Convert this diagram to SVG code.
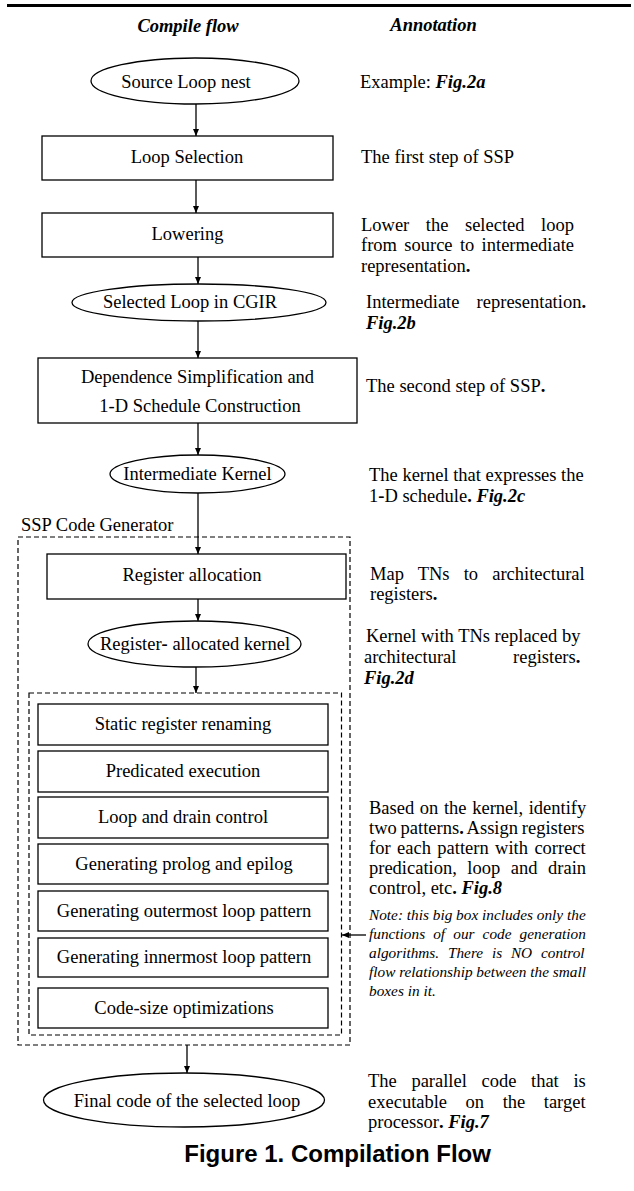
<svg xmlns="http://www.w3.org/2000/svg" width="634" height="1191" viewBox="0 0 634 1191">
<defs>
<marker id="ah" markerWidth="8" markerHeight="8" refX="7" refY="4" orient="auto" markerUnits="userSpaceOnUse"><path d="M0,1 L7,4 L0,7 z" fill="#000"/></marker>
</defs>
<style>
text{font-family:"Liberation Serif","Times New Roman",serif;font-size:18.5px;fill:#000}
.c{text-anchor:middle}
.b{font-weight:bold}
.bi{font-weight:bold;font-style:italic}
.note{font-style:italic;font-size:15.3px}
.cap{font-family:"Liberation Sans",Arial,sans-serif;font-weight:bold;font-size:24px}
.shape{fill:#fff;stroke:#000;stroke-width:1.3}
.dash{fill:none;stroke:#000;stroke-width:1.2;stroke-dasharray:5 3}
.conn line{stroke:#000;stroke-width:1.3;marker-end:url(#ah)}
</style>
<rect x="7" y="4" width="624" height="3" fill="#000"/>
<g id="headers">
<text class="c bi" x="188" y="32">Compile flow</text>
<text class="c bi" x="433.5" y="31">Annotation</text>
</g>
<g id="containers">
<rect id="ssp-code-generator" class="dash" x="18" y="537" width="332" height="508"/>
<text x="21" y="531">SSP Code Generator</text>
<rect id="code-gen-functions" class="dash" x="29" y="693" width="312.5" height="342"/>
</g>
<g id="n-source">
<ellipse class="shape" cx="195" cy="81" rx="104" ry="23"/>
<text class="c" x="186" y="88">Source Loop nest</text>
</g>
<g id="n-loopsel">
<rect class="shape" x="42" y="136" width="291" height="44"/>
<text class="c" x="187" y="163">Loop Selection</text>
</g>
<g id="n-lowering">
<rect class="shape" x="42" y="213" width="291" height="44"/>
<text class="c" x="187.5" y="240">Lowering</text>
</g>
<g id="n-cgir">
<ellipse class="shape" cx="199" cy="302.5" rx="127" ry="18.5"/>
<text class="c" x="190" y="308">Selected Loop in CGIR</text>
</g>
<g id="n-depsimp">
<rect class="shape" x="38" y="358" width="319" height="65"/>
<text class="c" x="197.5" y="383">Dependence Simplification and</text>
<text class="c" x="200" y="412">1-D Schedule Construction</text>
</g>
<g id="n-ikernel">
<ellipse class="shape" cx="197.5" cy="474" rx="87.5" ry="19"/>
<text class="c" x="197.5" y="480">Intermediate Kernel</text>
</g>
<g id="n-regalloc">
<rect class="shape" x="47" y="554" width="299" height="45"/>
<text class="c" x="192" y="581">Register allocation</text>
</g>
<g id="n-rakernel">
<ellipse class="shape" cx="194.5" cy="644" rx="106.5" ry="23"/>
<text class="c" x="195" y="650">Register<tspan class="b">-</tspan> allocated kernel</text>
</g>
<g id="n-static">
<rect class="shape" x="38" y="704" width="290" height="41"/>
<text class="c" x="183" y="730">Static register renaming</text>
</g>
<g id="n-pred">
<rect class="shape" x="38" y="751" width="290" height="41"/>
<text class="c" x="183" y="777">Predicated execution</text>
</g>
<g id="n-loopdrain">
<rect class="shape" x="38" y="797" width="290" height="41"/>
<text class="c" x="183" y="823">Loop and drain control</text>
</g>
<g id="n-prolog">
<rect class="shape" x="38" y="844" width="290" height="40"/>
<text class="c" x="184" y="870">Generating prolog and epilog</text>
</g>
<g id="n-outer">
<rect class="shape" x="38" y="891" width="290" height="40"/>
<text class="c" x="184" y="917">Generating outermost loop pattern</text>
</g>
<g id="n-inner">
<rect class="shape" x="38" y="938" width="290" height="39"/>
<text class="c" x="184" y="963">Generating innermost loop pattern</text>
</g>
<g id="n-codesize">
<rect class="shape" x="38" y="988" width="290" height="40"/>
<text class="c" x="184" y="1014">Code-size optimizations</text>
</g>
<g id="n-final">
<ellipse class="shape" cx="184" cy="1100" rx="140.5" ry="27"/>
<text class="c" x="187" y="1107">Final code of the selected loop</text>
</g>
<g id="connectors" class="conn">
<line x1="196" y1="104" x2="196" y2="136"/>
<line x1="196" y1="180" x2="196" y2="213"/>
<line x1="198" y1="257" x2="198" y2="284"/>
<line x1="198" y1="321" x2="198" y2="358"/>
<line x1="198" y1="423" x2="198" y2="455"/>
<line x1="198" y1="493" x2="198" y2="554"/>
<line x1="198" y1="599" x2="198" y2="621"/>
<line x1="196" y1="667" x2="196" y2="693"/>
<line x1="187" y1="1045" x2="187" y2="1073"/>
<line x1="366" y1="935" x2="342" y2="935"/>
</g>
<g id="annotations">
<text x="360" y="88">Example: <tspan class="bi">Fig.2a</tspan></text>
<text x="361" y="163">The first step of SSP</text>
<text x="361" y="231" word-spacing="11.9">Lower the selected loop</text>
<text x="361" y="251" word-spacing="2.7">from source to intermediate</text>
<text x="361" y="272">representation<tspan class="b">.</tspan></text>
<text x="366" y="308" word-spacing="12.5">Intermediate representation<tspan class="b">.</tspan></text>
<text x="366" y="329" class="bi">Fig.2b</text>
<text x="366" y="392">The second step of SSP<tspan class="b">.</tspan></text>
<text x="369" y="481">The kernel that expresses the</text>
<text x="369" y="502">1<tspan class="b">-</tspan>D schedule<tspan class="b">.</tspan> <tspan class="bi">Fig.2c</tspan></text>
<text x="370" y="580" word-spacing="9.5">Map TNs to architectural</text>
<text x="370" y="600">registers<tspan class="b">.</tspan></text>
<text x="366" y="642">Kernel with TNs replaced by</text>
<text x="364" y="663" word-spacing="52">architectural registers<tspan class="b">.</tspan></text>
<text x="364" y="684" class="bi">Fig.2d</text>
<text x="369" y="814" word-spacing="1">Based on the kernel, identify</text>
<text x="369" y="834" word-spacing="-0.8">two patterns<tspan class="b">.</tspan> Assign registers</text>
<text x="369" y="854" word-spacing="1.8">for each pattern with correct</text>
<text x="369" y="874" word-spacing="5.9">predication, loop and drain</text>
<text x="369" y="894">control, etc<tspan class="b">.</tspan> <tspan class="bi">Fig.8</tspan></text>
<text class="note" x="369" y="920">Note: this big box includes only the</text>
<text class="note" x="369" y="939" word-spacing="4.3">functions of our code generation</text>
<text class="note" x="369" y="958" word-spacing="5">algorithms. There is NO control</text>
<text class="note" x="369" y="977">flow relationship between the small</text>
<text class="note" x="369" y="996">boxes in it.</text>
<text x="368" y="1087" word-spacing="10">The parallel code that is</text>
<text x="368" y="1108" word-spacing="13.9">executable on the target</text>
<text x="368" y="1128">processor<tspan class="b">.</tspan> <tspan class="bi">Fig.7</tspan></text>
</g>
<text class="cap c" x="337.6" y="1162">Figure 1. Compilation Flow</text>
</svg>
